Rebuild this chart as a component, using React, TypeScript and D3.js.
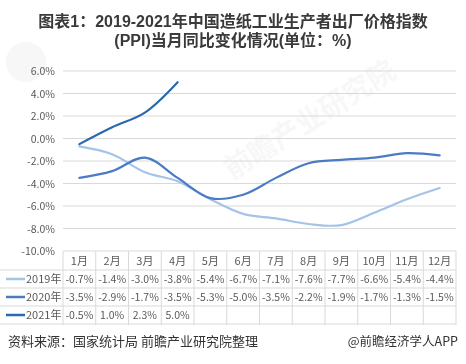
import React from 'react';
import * as d3 from 'd3';

const months = ['1月', '2月', '3月', '4月', '5月', '6月', '7月', '8月', '9月', '10月', '11月', '12月'];
const yTicks = [6, 4, 2, 0, -2, -4, -6, -8, -10];
const series2019 = [-0.7, -1.4, -3.0, -3.8, -5.4, -6.7, -7.1, -7.6, -7.7, -6.6, -5.4, -4.4];
const series2020 = [-3.5, -2.9, -1.7, -3.5, -5.3, -5.0, -3.5, -2.2, -1.9, -1.7, -1.3, -1.5];
const series2021 = [-0.5, 1.0, 2.3, 5.0];

const series = [
  { name: '2019年', values: series2019, color: '#a5c3e8' },
  { name: '2020年', values: series2020, color: '#4a7bc4' },
  { name: '2021年', values: series2021, color: '#2a69ad' },
];

const W = 466, H = 364;
const left = 63, right = 456, top = 71, bottom = 251;
const rowH = 18;

const fmt = (v: number) => v.toFixed(1) + '%';

export default function App() {
  const x = d3.scaleBand<string>().domain(months).range([left, right]);
  const y = d3.scaleLinear().domain([-10, 6]).range([bottom, top]);
  const line = d3.line<number>()
    .x((_, i) => (x(months[i]) as number) + x.bandwidth() / 2)
    .y(d => y(d))
    .curve(d3.curveCatmullRom.alpha(0.5));

  const font = '"Noto Sans CJK SC", "Noto Sans", sans-serif';
  const titleFont = '"Liberation Sans", "Noto Sans CJK SC", sans-serif';
  const headerY = bottom; // table hangs under the x axis
  const rowsTop = headerY + rowH + 1;
  const tableBottom = rowsTop + rowH * 3 + 1;

  return (
    <div style={{ position: 'absolute', left: 0, top: 0 }}>
      <svg width={W} height={H} style={{ display: 'block', background: '#fff' }} fontFamily={font}>
        {/* watermark */}
        <g opacity={0.05} fill="#555">
          <circle cx={26} cy={62} r={20} />
          <text x={232} y={180} fontSize={28} fontWeight="bold" transform="rotate(-32 232 180)">前瞻产业研究院</text>
        </g>

        {/* title */}
        <text x={233} y={27} textAnchor="middle" fontSize={16} fontWeight="bold" fill="#3a3a3a" fontFamily={titleFont}>
          图表1：2019-2021年中国造纸工业生产者出厂价格指数
        </text>
        <text x={233} y={46} textAnchor="middle" fontSize={16} fontWeight="bold" fill="#3a3a3a" fontFamily={titleFont}>
          (PPI)当月同比变化情况(单位：%)
        </text>

        {/* gridlines and y labels */}
        {yTicks.map(t => (
          <g key={t}>
            <line x1={left} x2={right} y1={y(t)} y2={y(t)} stroke="#d9d9d9" strokeWidth={1} />
            <text x={55} y={y(t) + 4} textAnchor="end" fontSize={10.5} fill="#595959">{fmt(t)}</text>
          </g>
        ))}

        {/* table grid */}
        {d3.range(months.length + 1).map(i => {
          const xx = left + i * x.step();
          return <line key={'v' + i} x1={xx} x2={xx} y1={headerY} y2={tableBottom} stroke="#d9d9d9" />;
        })}
        {d3.range(4).map(i => {
          const yy = rowsTop + i * rowH;
          return <line key={'h' + i} x1={0} x2={right} y1={yy} y2={yy} stroke="#d9d9d9" />;
        })}
        {months.map(m => (
          <text key={m} x={(x(m) as number) + x.bandwidth() / 2} y={headerY + 14} textAnchor="middle" fontSize={11} fill="#595959">{m}</text>
        ))}
        {series.map((s, r) => {
          const cy = rowsTop + r * rowH + rowH / 2;
          return (
            <g key={s.name}>
              <line x1={6} x2={25} y1={cy} y2={cy} stroke={s.color} strokeWidth={2.5} />
              <text x={26} y={cy + 4} fontSize={11} fill="#595959">{s.name}</text>
              {s.values.map((v, i) => (
                <text key={i} x={(x(months[i]) as number) + x.bandwidth() / 2} y={cy + 4} textAnchor="middle" fontSize={10.5} fill="#595959">{fmt(v)}</text>
              ))}
            </g>
          );
        })}

        {/* lines */}
        {series.map(s => (
          <path key={s.name} d={line(s.values) as string} fill="none" stroke={s.color} strokeWidth={2.2} strokeLinecap="round" />
        ))}

        {/* footer */}
        <text x={8} y={346} fontSize={13} fill="#333">资料来源：国家统计局 前瞻产业研究院整理</text>
        <text x={458} y={346} textAnchor="end" fontSize={12.5} fill="#333">@前瞻经济学人APP</text>
      </svg>
    </div>
  );
}
